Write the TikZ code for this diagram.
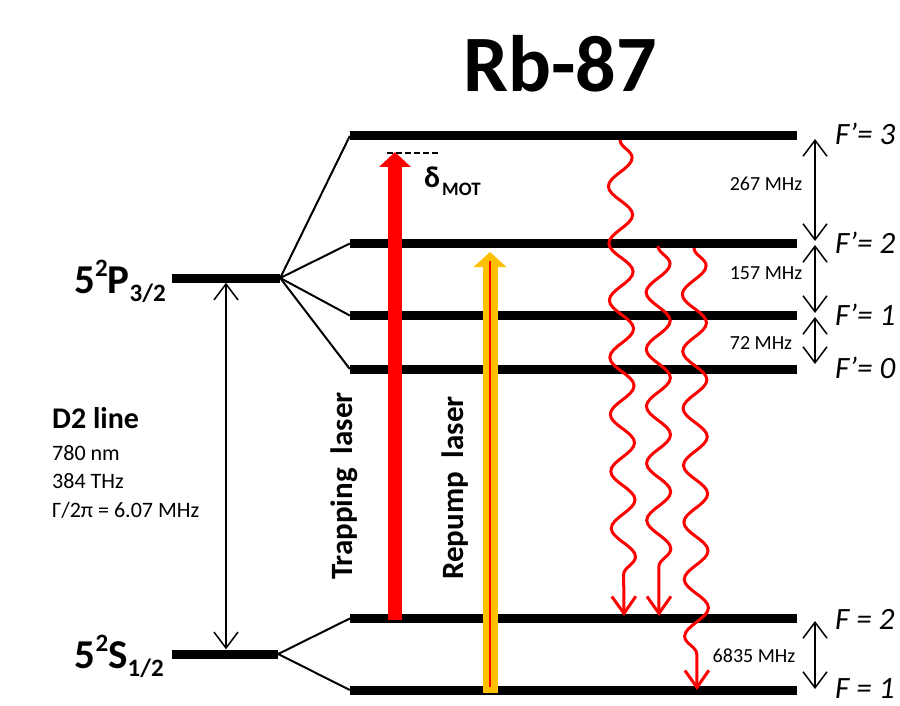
\documentclass[tikz,border=0pt]{standalone}
\usepackage{fontspec}
\setmainfont{Carlito}
\usetikzlibrary{arrows.meta,decorations.pathmorphing}
\definecolor{laserred}{HTML}{FF0000}
\definecolor{repumporange}{HTML}{FFC000}
\begin{document}
\begin{tikzpicture}[x=1pt,y=-1pt,
  level/.style={fill=black, inner sep=0pt, minimum height=9pt},
  fan/.style={line width=2pt},
  gap/.style={line width=1.5pt, {Straight Barb[length=16pt,width=24pt]}-{Straight Barb[length=16pt,width=24pt]}},
  decay/.style={laserred, line width=3pt, decorate,
    decoration={snake, segment length=57pt, amplitude=12pt, post length=33pt},
    -{Straight Barb[length=17pt,width=24pt]}},
  lbl/.style={font=\fontsize{20}{20}\selectfont, inner sep=0pt},
  flbl/.style={font=\fontsize{31}{31}\selectfont\itshape, inner sep=0pt, anchor=base west},
  txt/.style={inner sep=0pt},
]
\useasboundingbox (0,0) rectangle (900,706);

% title
\node[txt, anchor=base, font=\fontsize{80}{80}\selectfont\bfseries] (title) at (560,92) {Rb-87};

% fine structure levels
\node[level, minimum width=108pt] (P) at (226,278) {};
\node[level, minimum width=106pt] (S) at (225,654) {};

% hyperfine levels
\node[level, minimum width=447pt] (E3) at (573.5,136) {};
\node[level, minimum width=447pt] (E2) at (573.5,243.5) {};
\node[level, minimum width=447pt] (E1) at (573.5,315.5) {};
\node[level, minimum width=447pt] (E0) at (573.5,369) {};
\node[level, minimum width=447pt] (G2) at (573.5,618.5) {};
\node[level, minimum width=447pt] (G1) at (573.5,690) {};

% fan lines
\draw[fan] (P.east) -- (E3.west);
\draw[fan] (P.east) -- (E2.west);
\draw[fan] (P.east) -- (E1.west);
\draw[fan] (P.east) -- (E0.west);
\draw[fan] (S.east) -- (G2.west);
\draw[fan] (S.east) -- (G1.west);

% D2 arrow
\draw[gap] (P.south) -- (P.south |- S.north);

% level labels left
\node[txt, anchor=base east, font=\fontsize{41}{41}\selectfont\bfseries] (Plbl) at (166,293)
  {5\raisebox{17pt}{\fontsize{25}{25}\selectfont 2}P\raisebox{-8pt}{\fontsize{25}{25}\selectfont 3/2}};
\node[txt, anchor=base east, font=\fontsize{41}{41}\selectfont\bfseries] (Slbl) at (164,668)
  {5\raisebox{17pt}{\fontsize{25}{25}\selectfont 2}S\raisebox{-8pt}{\fontsize{25}{25}\selectfont 1/2}};

% D2 text
\node[txt, anchor=base west, font=\fontsize{30}{30}\selectfont\bfseries] (d2) at (52,428) {D2 line};
\node[txt, anchor=base west, font=\fontsize{22}{22}\selectfont] (d2a) at (52,460) {780 nm};
\node[txt, anchor=base west, font=\fontsize{22}{22}\selectfont] (d2b) at (52,488) {384 THz};
\node[txt, anchor=base west, font=\fontsize{22}{22}\selectfont] (d2c) at (52,517) {Γ/2π = 6.07 MHz};

% lasers
\coordinate (trapB) at (395,620);
\coordinate (trapT) at (395,152);
\draw[line width=14pt, laserred, -{Triangle[length=15pt,width=31pt]}] (trapB) -- (trapT);
\coordinate (repB) at (490,693);
\coordinate (repT) at (490,252);
\draw[line width=15pt, repumporange, -{Triangle[length=15pt,width=32pt]}] (repB) -- (repT);
\coordinate (repIB) at (490,687);
\coordinate (repIT) at (490,261);
\draw[line width=2pt, laserred] (repIB) -- (repIT);

% detuning
\coordinate (dashL) at (387,153);
\coordinate (dashR) at (440,153);
\draw[line width=1.5pt, dash pattern=on 6pt off 3pt] (dashL) -- (dashR);
\node[txt, anchor=base west, font=\fontsize{30}{30}\selectfont\bfseries] (delta) at (424,188) {δ};
\node[txt, anchor=base west, font=\fontsize{19}{19}\selectfont\bfseries] (mot) at (442,195) {MOT};

% laser labels
\node[txt, rotate=90, anchor=base west, font=\fontsize{31}{31}\selectfont\bfseries] (traplbl) at (352,580) {Trapping\ \ laser};
\node[txt, rotate=90, anchor=base west, font=\fontsize{31}{31}\selectfont\bfseries] (replbl) at (463,580) {Repump\ \ laser};

% decays
\coordinate (w1s) at (620,140);
\coordinate (w1e) at (624,616);
\coordinate (w2s) at (658,246);
\coordinate (w2e) at (659,616);
\coordinate (w3s) at (694,248);
\coordinate (w3e) at (697,690);
\draw[decay] (w1s) -- (w1e);
\draw[decay] (w2s) -- (w2e);
\draw[decay] (w3s) -- (w3e);

% splittings
\coordinate (a1t) at (815,139);
\coordinate (a1b) at (815,241);
\coordinate (a2t) at (815,245);
\coordinate (a2b) at (815,313);
\coordinate (a3t) at (815,317);
\coordinate (a3b) at (815,364);
\coordinate (a4t) at (815,621);
\coordinate (a4b) at (815,689);
\draw[gap] (a1t) -- (a1b);
\draw[gap] (a2t) -- (a2b);
\draw[gap] (a3t) -- (a3b);
\draw[gap] (a4t) -- (a4b);
\node[lbl] (s267) at (766,184) {267 MHz};
\node[lbl] (s157) at (766,273) {157 MHz};
\node[lbl] (s72) at (761,343) {72 MHz};
\node[lbl] (s6835) at (754,656) {6835 MHz};

% F labels
\node[flbl] (f3) at (835,145) {F’= 3};
\node[flbl] (f2) at (835,253) {F’= 2};
\node[flbl] (f1) at (835,325) {F’= 1};
\node[flbl] (f0) at (835,378) {F’= 0};
\node[flbl] (g2) at (835,629) {F = 2};
\node[flbl] (g1) at (835,698) {F = 1};
\end{tikzpicture}
\end{document}
